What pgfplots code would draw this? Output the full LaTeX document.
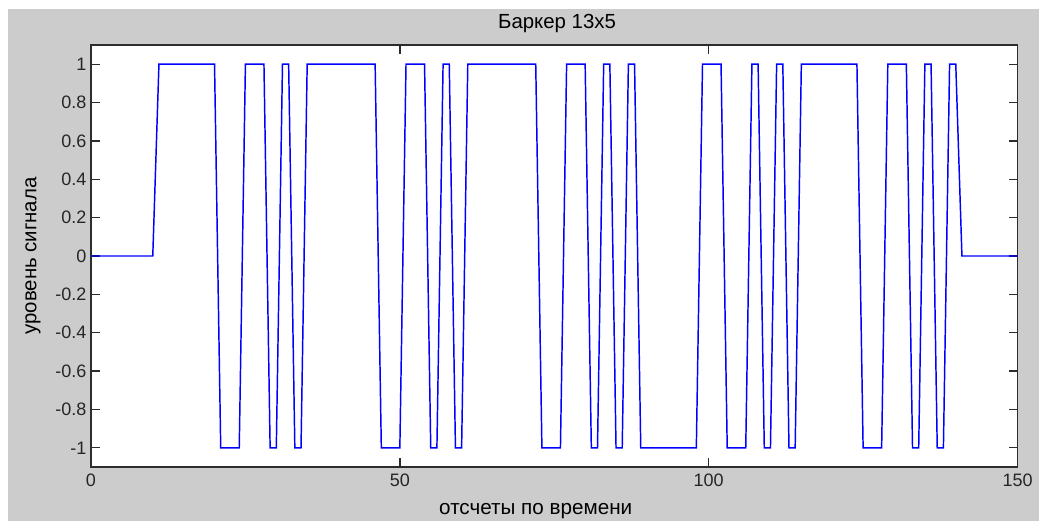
\documentclass[border=0pt]{standalone}
\usepackage{fontspec}
\setmainfont{Liberation Sans}
\usepackage{pgfplots}
\pgfplotsset{compat=1.18}
\definecolor{figgrey}{RGB}{204,204,204}
\definecolor{axcol}{RGB}{45,45,45}
\definecolor{sigblue}{RGB}{0,0,255}
\begin{document}
\begin{tikzpicture}
\fill[white] (0,0) rectangle (779.25pt,390.75pt);
\fill[figgrey] (6pt,0) rectangle (779.25pt,384pt);
\begin{axis}[
  at={(68.25pt,40.5pt)}, anchor=south west,
  scale only axis, width=694.9pt, height=316.5pt,
  xmin=0, xmax=150, ymin=-1.1, ymax=1.1,
  axis background/.style={fill=white},
  axis line style={axcol, line width=1pt},
  every tick/.style={axcol, line width=1pt},
  tick align=inside, major tick length=6.75pt,
  xtick={0,50,100,150},
  xticklabels={0,50,100,150},
  ytick={-1,-0.8,-0.6,-0.4,-0.2,0,0.2,0.4,0.6,0.8,1},
  yticklabels={-1,-0.8,-0.6,-0.4,-0.2,0,0.2,0.4,0.6,0.8,1},
  /pgf/number format/assume math mode=true,
  tick label style={font=\fontsize{13.5}{16}\selectfont, text=black!85},
  xticklabel style={yshift=-1.5pt},
  title={Баркер 13x5},
  title style={at={(axis description cs:0.503,1.033)}, anchor=center, font=\fontsize{15.3}{17}\selectfont},
  xlabel={отсчеты по времени},
  xlabel style={at={(axis description cs:0.48,-0.104)}, anchor=center, font=\fontsize{15.5}{17}\selectfont},
  ylabel={уровень сигнала},
  ylabel style={at={(axis description cs:-0.0626,0.5)}, anchor=center, font=\fontsize{15.3}{17}\selectfont},
  clip=true,
]
\addplot[sigblue, line width=1.1pt, line join=miter] coordinates {
  (0,0) (10,0)
  (11,1) (20,1)
  (21,-1) (24,-1)
  (25,1) (28,1)
  (29,-1) (30,-1)
  (31,1) (32,1)
  (33,-1) (34,-1)
  (35,1) (46,1)
  (47,-1) (50,-1)
  (51,1) (54,1)
  (55,-1) (56,-1)
  (57,1) (58,1)
  (59,-1) (60,-1)
  (61,1) (72,1)
  (73,-1) (76,-1)
  (77,1) (80,1)
  (81,-1) (82,-1)
  (83,1) (84,1)
  (85,-1) (86,-1)
  (87,1) (88,1)
  (89,-1) (98,-1)
  (99,1) (102,1)
  (103,-1) (106,-1)
  (107,1) (108,1)
  (109,-1) (110,-1)
  (111,1) (112,1)
  (113,-1) (114,-1)
  (115,1) (124,1)
  (125,-1) (128,-1)
  (129,1) (132,1)
  (133,-1) (134,-1)
  (135,1) (136,1)
  (137,-1) (138,-1)
  (139,1) (140,1)
  (141,0) (150,0)
};
\end{axis}
\end{tikzpicture}
\end{document}
